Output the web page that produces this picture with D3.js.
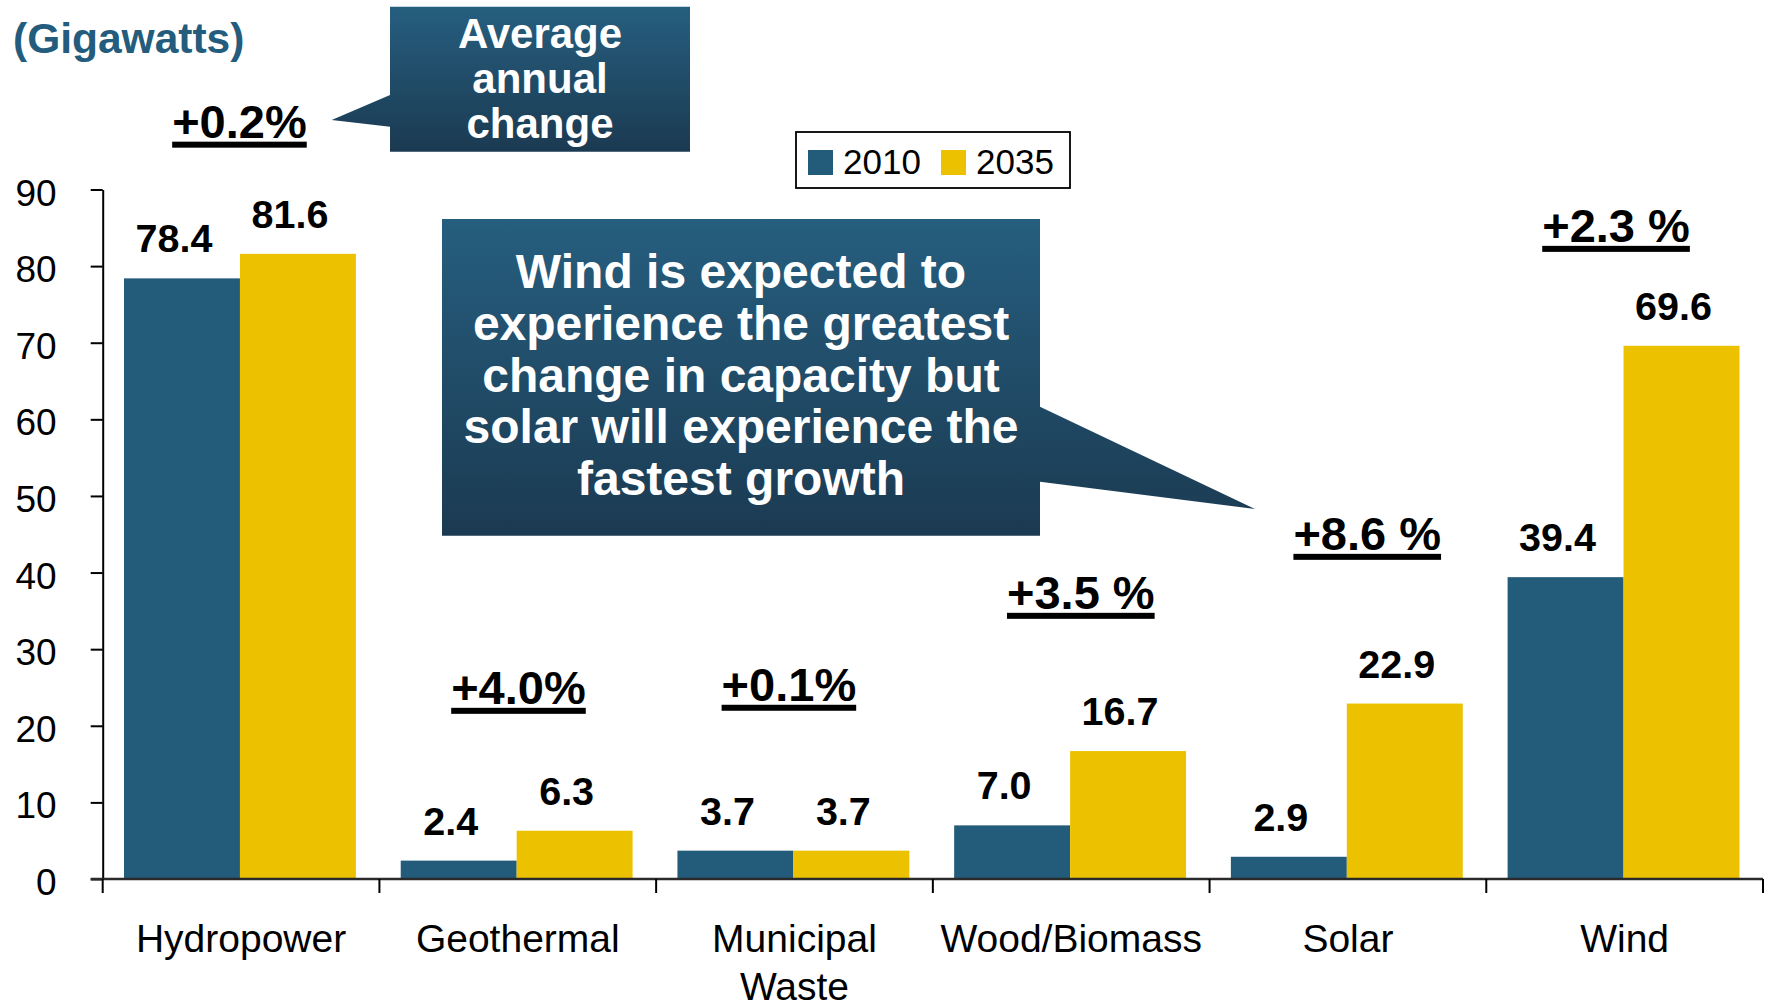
<!DOCTYPE html>
<html>
<head>
<meta charset="utf-8">
<script src="https://cdn.jsdelivr.net/npm/d3@7/dist/d3.min.js"></script>
<style>
  html, body { margin: 0; padding: 0; background: #ffffff; }
  svg { display: block; font-family: "Liberation Sans", Arial, Helvetica, sans-serif; }
</style>
</head>
<body>
<svg id="chart" width="1768" height="1008"></svg>
<script>
// Installed capacity by renewable source, 2010 vs 2035 (gigawatts)
const categories = ["Hydropower", "Geothermal", "Municipal Waste", "Wood/Biomass", "Solar", "Wind"];
const seriesNames = ["2010", "2035"];
const values2010 = [78.4, 2.4, 3.7, 7.0, 2.9, 39.4];
const values2035 = [81.6, 6.3, 3.7, 16.7, 22.9, 69.6];
const annualChange = ["+0.2%", "+4.0%", "+0.1%", "+3.5 %", "+8.6 %", "+2.3 %"];
const yTicks = [0, 10, 20, 30, 40, 50, 60, 70, 80, 90];
const unitLabel = "(Gigawatts)";
const calloutAverage = ["Average", "annual", "change"];
const calloutWind = ["Wind is expected to", "experience the greatest", "change in capacity but", "solar will experience the", "fastest growth"];

// Placement of the annual-change labels: baseline level (axis units) and horizontal nudge (px)
const changeLabelLevel = [96.7, 22.8, 23.2, 35.2, 42.9, 83.1];
const changeLabelNudge = [-1.6, 0.7, -5.6, 9.6, 19.3, -8.6];

const colors = { "2010": "#235B7A", "2035": "#ECC100" };

const svg = d3.select("#chart");
const plotLeft = 102.7, plotRight = 1763, plotTop = 189.5, plotBottom = 879;

const x = d3.scaleBand().domain(categories).range([plotLeft, plotRight]).padding(0);
const step = x.bandwidth();
const xInner = d3.scaleBand().domain(seriesNames).range([step * 0.077, step * 0.915]).padding(0);
const y = d3.scaleLinear().domain([0, 90]).range([plotBottom, plotTop]);

const rows = categories.map((c, i) => ({
  category: c,
  values: [
    { series: "2010", value: values2010[i] },
    { series: "2035", value: values2035[i] }
  ],
  change: annualChange[i],
  level: changeLabelLevel[i],
  nudge: changeLabelNudge[i]
}));

// Gradient used by the callout boxes
const defs = svg.append("defs");
const grad = defs.append("linearGradient")
  .attr("id", "calloutFill")
  .attr("x1", 0).attr("y1", 0).attr("x2", 0).attr("y2", 1);
grad.append("stop").attr("offset", "0%").attr("stop-color", "#265E7F");
grad.append("stop").attr("offset", "100%").attr("stop-color", "#1B3A51");

// Bars
const groups = svg.append("g").selectAll("g.group")
  .data(rows).join("g")
  .attr("class", "group")
  .attr("transform", d => `translate(${x(d.category)},0)`);

groups.selectAll("rect")
  .data(d => d.values).join("rect")
  .attr("x", d => xInner(d.series))
  .attr("width", xInner.bandwidth())
  .attr("y", d => y(d.value))
  .attr("height", d => y(0) - y(d.value))
  .attr("fill", d => colors[d.series]);

// Value labels above bars
groups.selectAll("text.value")
  .data(d => d.values).join("text")
  .attr("class", "value")
  .attr("x", d => xInner(d.series) + xInner.bandwidth() / 2 - 8)
  .attr("y", d => y(d.value) - 26)
  .attr("text-anchor", "middle")
  .attr("font-size", 39.5)
  .attr("font-weight", "bold")
  .attr("fill", "#000")
  .text(d => d3.format(".1f")(d.value));

// Y axis
const yAxis = svg.append("g")
  .attr("transform", `translate(${plotLeft},0)`)
  .call(d3.axisLeft(y).tickValues(yTicks).tickSize(12).tickPadding(34).tickSizeOuter(0));
yAxis.select(".domain").attr("stroke", "#000").attr("stroke-width", 2);
yAxis.selectAll(".tick line").attr("stroke", "#000").attr("stroke-width", 2);
yAxis.selectAll(".tick text")
  .attr("font-family", "'Liberation Sans', Arial, sans-serif")
  .attr("font-size", 37)
  .attr("fill", "#000")
  .attr("dy", "0.42em");

// X axis
const xAxis = svg.append("g")
  .attr("transform", `translate(0,${plotBottom})`);
xAxis.append("line")
  .attr("x1", plotLeft - 12).attr("x2", plotRight)
  .attr("y1", 0).attr("y2", 0)
  .attr("stroke", "#2a2a2a").attr("stroke-width", 2.5);
const boundaries = categories.map(c => x(c)).concat([plotRight]);
xAxis.selectAll("line.tick")
  .data(boundaries).join("line")
  .attr("class", "tick")
  .attr("x1", d => d).attr("x2", d => d)
  .attr("y1", 0).attr("y2", 14)
  .attr("stroke", "#000").attr("stroke-width", 2);
const catText = xAxis.selectAll("text.cat")
  .data(categories).join("text")
  .attr("class", "cat")
  .attr("x", d => x(d) + step / 2)
  .attr("y", 72.7)
  .attr("text-anchor", "middle")
  .attr("font-size", 39)
  .attr("fill", "#000");
catText.each(function(d) {
  const words = d.split(" ");
  const t = d3.select(this);
  words.forEach((w, i) => {
    t.append("tspan")
      .attr("x", x(d) + step / 2)
      .attr("dy", i === 0 ? 0 : 48.5)
      .text(w);
  });
});

// Annual-change labels, bold with a heavy underline
const changeG = svg.append("g").selectAll("g.change")
  .data(rows).join("g").attr("class", "change");
changeG.each(function(d) {
  const g = d3.select(this);
  const cx = x(d.category) + step / 2 + d.nudge;
  const by = y(d.level);
  const t = g.append("text")
    .attr("x", cx).attr("y", by)
    .attr("text-anchor", "middle")
    .attr("font-size", 47)
    .attr("font-weight", "bold")
    .attr("fill", "#000")
    .text(d.change);
  const w = t.node().getComputedTextLength();
  g.append("rect")
    .attr("x", cx - w / 2).attr("y", by + 3.5)
    .attr("width", w).attr("height", 6)
    .attr("fill", "#000");
});

// Unit label
svg.append("text")
  .attr("x", 13).attr("y", 53)
  .attr("font-size", 42.5)
  .attr("font-weight", "bold")
  .attr("fill", "#235C7C")
  .text(unitLabel);

// Legend
const legend = svg.append("g");
legend.append("rect")
  .attr("x", 796).attr("y", 132)
  .attr("width", 274).attr("height", 56)
  .attr("fill", "#fff").attr("stroke", "#000").attr("stroke-width", 1.8);
const legendItems = [{ name: seriesNames[0], sx: 808 }, { name: seriesNames[1], sx: 941 }];
legend.selectAll("rect.sw")
  .data(legendItems).join("rect")
  .attr("class", "sw")
  .attr("x", d => d.sx).attr("y", 150)
  .attr("width", 25).attr("height", 25)
  .attr("fill", d => colors[d.name]);
legend.selectAll("text.lg")
  .data(legendItems).join("text")
  .attr("class", "lg")
  .attr("x", d => d.sx + 35).attr("y", 174)
  .attr("font-size", 35)
  .attr("fill", "#000")
  .text(d => d.name);

// Callout: "Average annual change", pointing at the first change label
const c1 = svg.append("g");
c1.append("path")
  .attr("d", "M390,6.8 H690 V151.7 H390 V126.7 L331.7,120 L390,95 Z")
  .attr("fill", "url(#calloutFill)");
c1.selectAll("text")
  .data(calloutAverage).join("text")
  .attr("x", 540)
  .attr("y", (d, i) => 47.5 + i * 45.3)
  .attr("text-anchor", "middle")
  .attr("font-size", 42)
  .attr("font-weight", "bold")
  .attr("fill", "#fff")
  .text(d => d);

// Callout: wind vs solar growth, pointing at the solar change label
const c2 = svg.append("g");
c2.append("path")
  .attr("d", "M442,219 H1040 V406.7 L1255,509 L1040,481.7 V535.7 H442 Z")
  .attr("fill", "url(#calloutFill)");
c2.selectAll("text")
  .data(calloutWind).join("text")
  .attr("x", 741)
  .attr("y", (d, i) => 288.3 + i * 51.6)
  .attr("text-anchor", "middle")
  .attr("font-size", 48)
  .attr("font-weight", "bold")
  .attr("fill", "#fff")
  .text(d => d);
</script>
</body>
</html>
